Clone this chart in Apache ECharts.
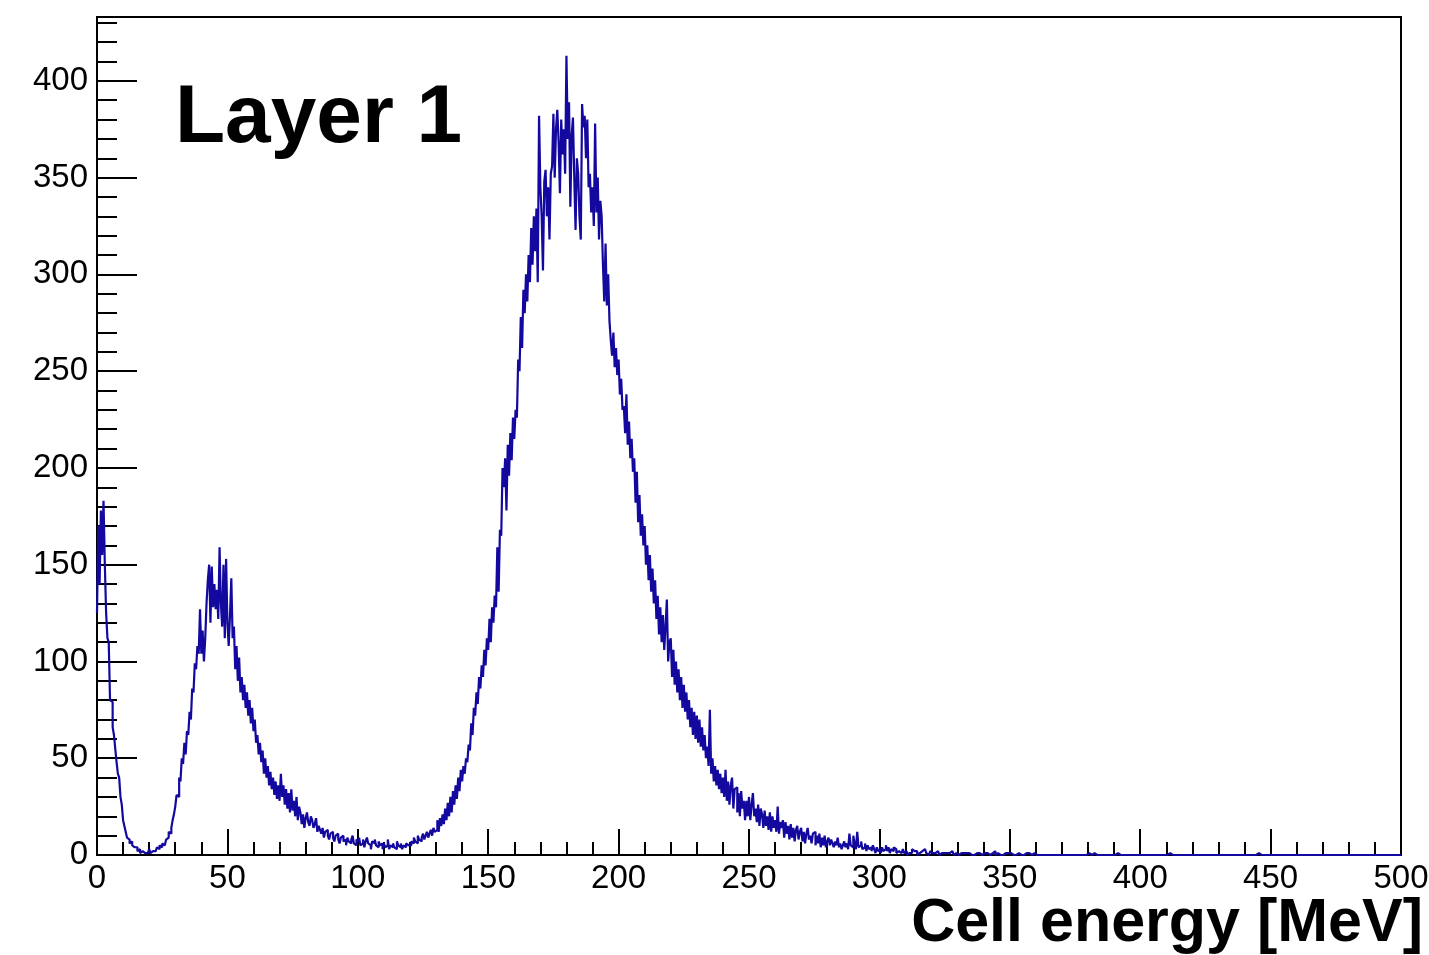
<!DOCTYPE html>
<html>
<head>
<meta charset="utf-8">
<script src="https://cdn.jsdelivr.net/npm/echarts@6/dist/echarts.min.js"></script>
<style>
html,body{margin:0;padding:0;background:#fff;}
#chart{width:1429px;height:955px;}
</style>
</head>
<body>
<div id="chart"></div>
<script>
// Histogram: bin width 0.5 MeV, starting at 0 MeV
const binWidth = 0.5;
const xStart = 0;
const xTickLabels = [0, 50, 100, 150, 200, 250, 300, 350, 400, 450, 500];
const yTickLabels = [0, 50, 100, 150, 200, 250, 300, 350, 400];
const panelLabel = 'Layer 1';
const xTitle = 'Cell energy [MeV]';
// counts per bin, one row = 10 MeV (20 bins)
const counts = [
125,170,140,178,155,183,150,125,112,110,80,79,66,62,55,48,42,40,30,26,
18,15,12,9,8,6,7,5,4,3,4,2,3,1,2,3,1,2,1,2,
3,1,2,3,2,1,4,3,5,4,6,5,6,8,9,12,11,14,18,21,
25,31,30,40,38,50,47,58,52,64,62,74,70,86,84,99,96,108,104,127,
104,116,100,112,130,142,150,120,149,128,140,127,137,122,159,130,118,150,112,153,
120,108,124,143,112,118,96,108,90,102,84,92,80,88,76,84,72,80,68,76,
64,70,58,62,52,58,48,54,42,50,40,46,36,43,34,40,31,38,29,36,
28,42,30,36,26,34,24,32,22,34,23,28,20,30,18,25,22,16,21,14,
19,22,17,15,20,18,14,16,19,12,15,13,11,14,9,12,13,10,8,11,
12,9,7,10,11,8,6,9,10,7,8,5,9,7,6,8,10,6,5,8,
7,9,5,6,8,4,7,9,6,5,3,7,6,8,5,4,7,5,6,3,
6,4,5,8,3,5,4,6,4,3,7,5,4,6,3,5,4,6,5,4,
5,7,6,9,7,6,10,8,7,9,11,8,10,12,9,11,13,10,14,12,
13,18,12,19,15,21,16,24,18,27,20,30,22,33,26,36,29,40,33,44,
38,46,42,50,48,57,54,68,62,76,72,84,78,92,86,98,92,106,98,112,
106,122,110,128,120,134,128,159,136,168,165,200,190,205,178,212,196,218,204,226,
215,230,226,256,250,278,262,292,280,300,286,310,296,324,305,330,312,334,296,382,
345,330,302,348,354,330,345,318,352,356,383,350,375,385,368,342,380,362,375,352,
413,370,389,335,372,381,350,323,360,352,330,318,388,376,382,360,380,345,352,332,
345,325,378,332,350,318,338,330,305,286,316,284,300,276,266,258,270,252,262,248,
256,238,246,230,232,218,238,212,224,205,215,198,205,182,198,172,186,165,176,160,
170,150,160,142,155,136,148,130,142,122,134,114,128,110,124,106,118,132,100,110,
112,92,106,88,100,84,96,80,92,76,88,74,84,70,80,66,76,62,74,60,
72,58,70,56,66,54,62,50,56,46,75,42,50,38,46,36,44,34,42,32,
40,30,44,28,38,26,36,40,24,34,35,22,32,20,33,24,28,18,28,20,
30,18,26,32,20,24,17,26,15,24,21,14,23,15,20,13,22,12,20,14,
18,12,25,11,17,14,18,9,17,11,15,8,16,9,14,7,13,15,8,12,
14,7,12,6,11,14,8,10,6,11,12,5,10,6,11,4,9,5,10,4,
7,9,5,8,6,4,7,5,9,4,6,3,5,7,4,6,3,11,5,4,
10,6,3,12,4,5,7,3,4,6,2,5,3,4,2,5,3,1,4,2,
3,1,4,2,3,5,2,4,1,3,2,4,3,1,2,3,1,2,3,1,
2,0,1,2,1,3,2,1,2,0,1,2,2,1,3,2,1,0,1,2,
1,2,1,1,2,1,0,1,2,1,2,1,0,1,1,2,1,0,1,1,
0,1,1,0,1,2,1,0,1,1,0,1,0,1,1,0,1,0,0,1,
1,0,1,1,0,0,1,0,2,0,1,0,0,1,0,0,1,0,1,0,
1,0,0,1,0,0,1,0,0,0,0,0,1,1,1,0,0,0,1,0,
0,0,0,1,0,1,0,0,0,0,0,0,0,0,0,1,0,0,0,0,
0,0,0,0,0,0,0,0,0,0,0,0,0,0,0,1,0,0,0,1,
1,1,0,0,1,0,0,0,0,0,0,0,0,0,0,0,0,0,0,0,
0,0,1,1,0,0,0,1,0,0,0,0,0,0,0,0,0,0,0,0,
0,0,0,0,0,0,0,0,0,0,0,0,0,0,0,0,0,0,0,0,
0,0,1,0,0,0,0,0,0,0,0,0,0,0,0,0,0,0,0,0,
0,0,0,0,0,0,0,0,0,0,0,0,0,0,0,0,0,0,0,0,
0,0,0,0,0,0,0,0,0,0,0,0,0,0,0,0,0,0,0,0,
0,0,0,0,0,0,0,0,0,0,1,0,0,0,0,0,0,0,0,0,
0,0,0,0,0,0,0,0,0,0,0,0,0,0,0,0,0,0,0,0,
0,0,0,0,0,0,0,0,0,0,0,0,0,0,0,0,0,0,0,0,
0,0,0,0,0,0,0,0,0,0,0,0,0,0,0,0,0,0,0,0,
0,0,0,0,0,0,0,0,0,0,0,0,0,0,0,0,0,0,0,0,
0,0,0,0,0,0,0,0,0,0,0,0,0,0,0,0,0,0,0,0
];

const xMin = 0, xMax = 500, yMin = 0, yMax = 433;
const lineColor = '#14099e';
const font = 'Liberation Sans, Arial, Helvetica, sans-serif';

const histData = counts.map((c, i) => [xStart + i * binWidth, c]);
histData.push([xStart + counts.length * binWidth, counts[counts.length - 1]]);

const chart = echarts.init(document.getElementById('chart'), null, {renderer: 'canvas'});
const tickStyle = {color: '#000', width: 2};

chart.setOption({
  animation: false,
  backgroundColor: '#fff',
  grid: {left: 97, top: 17, right: 28, bottom: 100, show: true, borderColor: '#000', borderWidth: 2, backgroundColor: 'transparent', containLabel: false, outerBoundsMode: 'none'},
  xAxis: [
    {type: 'value', position: 'bottom', min: xMin, max: xMax, interval: 50,
     axisLine: {show: true, onZero: false, lineStyle: {color: '#000', width: 2}},
     axisTick: {show: true, inside: true, length: 26, lineStyle: tickStyle},
     axisLabel: {show: true, fontSize: 33, color: '#000', fontFamily: font, margin: 7, showMinLabel: true, showMaxLabel: true,
       formatter: v => xTickLabels.includes(v) ? String(v) : ''},
     splitLine: {show: false}},
    {type: 'value', position: 'bottom', min: xMin, max: xMax, interval: 10,
     axisLine: {show: false, onZero: false},
     axisTick: {show: true, inside: true, length: 13, lineStyle: tickStyle},
     axisLabel: {show: false}, splitLine: {show: false}}
  ],
  yAxis: [
    {type: 'value', position: 'left', min: yMin, max: yMax, interval: 50,
     axisLine: {show: true, onZero: false, lineStyle: {color: '#000', width: 2}},
     axisTick: {show: true, inside: true, length: 40, lineStyle: tickStyle},
     axisLabel: {show: true, fontSize: 33, color: '#000', fontFamily: font, margin: 9, showMinLabel: true, showMaxLabel: true,
       formatter: v => yTickLabels.includes(v) ? String(v) : ''},
     splitLine: {show: false}},
    {type: 'value', position: 'left', min: yMin, max: yMax, interval: 10,
     axisLine: {show: false, onZero: false},
     axisTick: {show: true, inside: true, length: 20, lineStyle: tickStyle},
     axisLabel: {show: false}, splitLine: {show: false}}
  ],
  series: [{
    type: 'line', xAxisIndex: 0, yAxisIndex: 0,
    data: histData, step: 'end', symbol: 'none', showSymbol: false,
    sampling: null, clip: true, silent: true,
    lineStyle: {color: lineColor, width: 2.2}
  }],
  graphic: [
    {type: 'text', left: 175, top: 78, silent: true,
     style: {text: panelLabel, font: 'bold 82px ' + font, fill: '#000'}},
    {type: 'text', right: 6, top: 894, silent: true,
     style: {text: xTitle, font: 'bold 61px ' + font, fill: '#000'}}
  ]
});
</script>
</body>
</html>
